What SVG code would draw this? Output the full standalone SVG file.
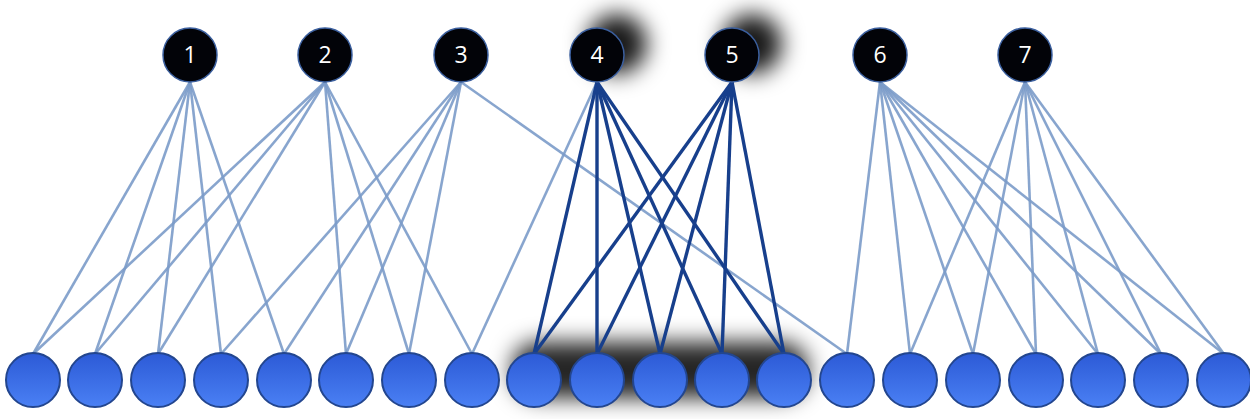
<svg xmlns="http://www.w3.org/2000/svg" width="1250" height="419" viewBox="0 0 1250 419">
<defs>
<style>
.top{fill:#020308;stroke:#3b5f9e;stroke-width:1.5}
.num{fill:#ffffff;font-family:"Open Sans","Liberation Sans",sans-serif;font-size:23px;text-anchor:middle}
.bot{fill:url(#bg);stroke:#23468f;stroke-width:2}
.lt{stroke:#7b9bc9;stroke-width:2.6;stroke-opacity:0.9;fill:none}
.dk{stroke:#173f8c;stroke-width:3.4;fill:none}
.sh{fill:#000;filter:url(#blur)}
</style>
<linearGradient id="bg" x1="0" y1="0" x2="0" y2="1">
<stop offset="0" stop-color="#2c5ad6"/>
<stop offset="1" stop-color="#4a80f4"/>
</linearGradient>
<filter id="blur" x="-1" y="-1" width="3" height="3"><feGaussianBlur stdDeviation="11"/></filter>
</defs>
<g id="shadows">
<circle class="sh" cx="617" cy="44" r="30" fill-opacity="0.9"/>
<circle class="sh" cx="752" cy="44" r="30" fill-opacity="0.9"/>
<rect class="sh" x="512" y="342" width="296" height="56" rx="26" fill-opacity="0.85"/>
</g>
<g id="connectors">
<line class="lt" x1="190" y1="82" x2="33" y2="354"/>
<line class="lt" x1="190" y1="82" x2="95" y2="354"/>
<line class="lt" x1="190" y1="82" x2="158" y2="354"/>
<line class="lt" x1="190" y1="82" x2="221" y2="354"/>
<line class="lt" x1="190" y1="82" x2="284" y2="354"/>
<line class="lt" x1="325" y1="82" x2="33" y2="354"/>
<line class="lt" x1="325" y1="82" x2="95" y2="354"/>
<line class="lt" x1="325" y1="82" x2="158" y2="354"/>
<line class="lt" x1="325" y1="82" x2="346" y2="354"/>
<line class="lt" x1="325" y1="82" x2="409" y2="354"/>
<line class="lt" x1="325" y1="82" x2="472" y2="354"/>
<line class="lt" x1="461" y1="82" x2="221" y2="354"/>
<line class="lt" x1="461" y1="82" x2="284" y2="354"/>
<line class="lt" x1="461" y1="82" x2="346" y2="354"/>
<line class="lt" x1="461" y1="82" x2="409" y2="354"/>
<line class="lt" x1="461" y1="82" x2="847" y2="354"/>
<line class="lt" x1="597" y1="82" x2="472" y2="354"/>
<line class="lt" x1="880" y1="82" x2="847" y2="354"/>
<line class="lt" x1="880" y1="82" x2="910" y2="354"/>
<line class="lt" x1="880" y1="82" x2="973" y2="354"/>
<line class="lt" x1="880" y1="82" x2="1036" y2="354"/>
<line class="lt" x1="880" y1="82" x2="1098" y2="354"/>
<line class="lt" x1="880" y1="82" x2="1161" y2="354"/>
<line class="lt" x1="880" y1="82" x2="1224" y2="354"/>
<line class="lt" x1="1025" y1="82" x2="910" y2="354"/>
<line class="lt" x1="1025" y1="82" x2="973" y2="354"/>
<line class="lt" x1="1025" y1="82" x2="1036" y2="354"/>
<line class="lt" x1="1025" y1="82" x2="1098" y2="354"/>
<line class="lt" x1="1025" y1="82" x2="1161" y2="354"/>
<line class="lt" x1="1025" y1="82" x2="1224" y2="354"/>
<line class="dk" x1="597" y1="82" x2="534" y2="354"/>
<line class="dk" x1="597" y1="82" x2="597" y2="354"/>
<line class="dk" x1="597" y1="82" x2="660" y2="354"/>
<line class="dk" x1="597" y1="82" x2="722" y2="354"/>
<line class="dk" x1="597" y1="82" x2="784" y2="354"/>
<line class="dk" x1="732" y1="82" x2="534" y2="354"/>
<line class="dk" x1="732" y1="82" x2="597" y2="354"/>
<line class="dk" x1="732" y1="82" x2="660" y2="354"/>
<line class="dk" x1="732" y1="82" x2="722" y2="354"/>
<line class="dk" x1="732" y1="82" x2="784" y2="354"/>
</g>
<g id="n1"><circle class="top" cx="190" cy="55" r="27"/><text class="num" x="190" y="63">1</text></g>
<g id="n2"><circle class="top" cx="325" cy="55" r="27"/><text class="num" x="325" y="63">2</text></g>
<g id="n3"><circle class="top" cx="461" cy="55" r="27"/><text class="num" x="461" y="63">3</text></g>
<g id="n4"><circle class="top" cx="597" cy="55" r="27"/><text class="num" x="597" y="63">4</text></g>
<g id="n5"><circle class="top" cx="732" cy="55" r="27"/><text class="num" x="732" y="63">5</text></g>
<g id="n6"><circle class="top" cx="880" cy="55" r="27"/><text class="num" x="880" y="63">6</text></g>
<g id="n7"><circle class="top" cx="1025" cy="55" r="27"/><text class="num" x="1025" y="63">7</text></g>
<g id="b1"><circle class="bot" cx="33" cy="380" r="27"/></g>
<g id="b2"><circle class="bot" cx="95" cy="380" r="27"/></g>
<g id="b3"><circle class="bot" cx="158" cy="380" r="27"/></g>
<g id="b4"><circle class="bot" cx="221" cy="380" r="27"/></g>
<g id="b5"><circle class="bot" cx="284" cy="380" r="27"/></g>
<g id="b6"><circle class="bot" cx="346" cy="380" r="27"/></g>
<g id="b7"><circle class="bot" cx="409" cy="380" r="27"/></g>
<g id="b8"><circle class="bot" cx="472" cy="380" r="27"/></g>
<g id="b9"><circle class="bot" cx="534" cy="380" r="27"/></g>
<g id="b10"><circle class="bot" cx="597" cy="380" r="27"/></g>
<g id="b11"><circle class="bot" cx="660" cy="380" r="27"/></g>
<g id="b12"><circle class="bot" cx="722" cy="380" r="27"/></g>
<g id="b13"><circle class="bot" cx="784" cy="380" r="27"/></g>
<g id="b14"><circle class="bot" cx="847" cy="380" r="27"/></g>
<g id="b15"><circle class="bot" cx="910" cy="380" r="27"/></g>
<g id="b16"><circle class="bot" cx="973" cy="380" r="27"/></g>
<g id="b17"><circle class="bot" cx="1036" cy="380" r="27"/></g>
<g id="b18"><circle class="bot" cx="1098" cy="380" r="27"/></g>
<g id="b19"><circle class="bot" cx="1161" cy="380" r="27"/></g>
<g id="b20"><circle class="bot" cx="1224" cy="380" r="27"/></g>
</svg>
